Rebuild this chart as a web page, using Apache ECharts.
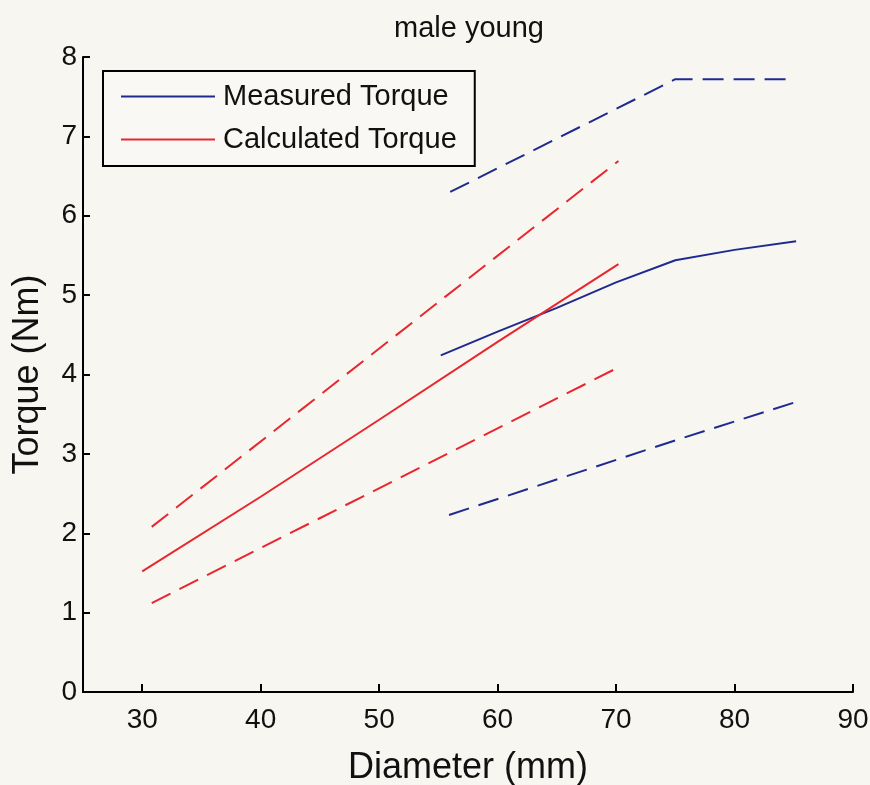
<!DOCTYPE html>
<html>
<head>
<meta charset="utf-8">
<script src="https://cdn.jsdelivr.net/npm/echarts@6/dist/echarts.min.js"></script>
<style>
html,body{margin:0;padding:0;background:#f7f6f1;}
#chart{width:870px;height:785px;}
</style>
</head>
<body>
<div id="chart"></div>
<script>
// ---- data ----
const titleText = 'male young';
const xName = 'Diameter (mm)';
const yName = 'Torque (Nm)';
const xTicks = [30, 40, 50, 60, 70, 80, 90];
const yTicks = [0, 1, 2, 3, 4, 5, 6, 7, 8];

// Measured torque (blue)
const measuredX     = [55.2, 60, 65, 70, 75, 80, 85.2];
const measuredMean  = [4.24, 4.54, 4.84, 5.16, 5.44, 5.57, 5.68];
const measuredUpX   = [56.0, 75, 85.1];
const measuredUp    = [6.30, 7.72, 7.72];
const measuredLowX  = [55.9, 75, 85.1];
const measuredLow   = [2.23, 3.17, 3.65];

// Calculated torque (red)
const calcX      = [30.0, 40, 50, 60, 70.2];
const calcMean   = [1.52, 2.46, 3.43, 4.41, 5.39];
const calcUpX    = [30.8, 70.2];
const calcUp     = [2.08, 6.69];
const calcLowX   = [30.8, 70.2];
const calcLow    = [1.12, 4.09];

const legendNames = ['Measured Torque', 'Calculated Torque'];

const BLUE = '#1f2a8f';
const RED = '#e8262e';
const FONT = '"Liberation Sans", Arial, sans-serif';

function pairs(xs, ys) { return xs.map((x, i) => [x, ys[i]]); }

function lineSeries(name, xs, ys, color, dashed) {
  return {
    name: name,
    type: 'line',
    data: pairs(xs, ys),
    symbol: 'none',
    smooth: false,
    silent: true,
    animation: false,
    lineStyle: { color: color, width: 2, type: dashed ? [21, 10] : 'solid' },
    itemStyle: { color: color }
  };
}

const chart = echarts.init(document.getElementById('chart'), null, { renderer: 'canvas' });
chart.setOption({
  backgroundColor: '#f7f6f1',
  animation: false,
  textStyle: { fontFamily: FONT },
  title: {
    text: titleText,
    left: 464, textAlign: 'center',
    top: 9,
    textStyle: { fontFamily: FONT, fontSize: 29, fontWeight: 'normal', color: '#111' }
  },
  legend: {
    data: legendNames.map(n => ({ name: n, icon: 'rect' })),
    orient: 'vertical',
    left: 103, top: 71,
    padding: [11, 18, 12, 18],
    itemGap: 14,
    itemWidth: 94, itemHeight: 2,
    itemStyle: { borderWidth: 0 },
    selectedMode: false,
    borderColor: '#000', borderWidth: 2,
    backgroundColor: '#f9f8f4',
    textStyle: { fontFamily: FONT, fontSize: 29, color: '#111', padding: [0, 0, 0, 3] }
  },
  grid: { left: 83, right: 17, top: 57, bottom: 93, containLabel: false, outerBoundsMode: 'none' },
  xAxis: {
    type: 'value', min: 25, max: 90,
    name: xName, nameLocation: 'middle', nameGap: 58,
    nameMoveOverlap: false,
    nameTextStyle: { fontFamily: FONT, fontSize: 36, color: '#111' },
    axisLine: { show: true, lineStyle: { color: '#000', width: 2 } },
    axisTick: { show: true, inside: true, length: 8, customValues: xTicks, lineStyle: { color: '#000', width: 2 } },
    axisLabel: { customValues: xTicks, margin: 14, fontFamily: FONT, fontSize: 28, color: '#111' },
    splitLine: { show: false }
  },
  yAxis: {
    type: 'value', min: 0, max: 8, interval: 1,
    name: yName, nameLocation: 'middle', nameGap: 37, nameRotate: 90,
    nameMoveOverlap: false,
    nameTextStyle: { fontFamily: FONT, fontSize: 36, color: '#111' },
    axisLine: { show: true, lineStyle: { color: '#000', width: 2 } },
    axisTick: { show: true, inside: true, length: 7, customValues: yTicks, lineStyle: { color: '#000', width: 2 } },
    axisLabel: { customValues: yTicks, margin: 6, fontFamily: FONT, fontSize: 28, color: '#111' },
    splitLine: { show: false }
  },
  series: [
    lineSeries(legendNames[0], measuredX, measuredMean, BLUE, false),
    lineSeries(legendNames[1], calcX, calcMean, RED, false),
    lineSeries('Measured upper', measuredUpX, measuredUp, BLUE, true),
    lineSeries('Measured lower', measuredLowX, measuredLow, BLUE, true),
    lineSeries('Calculated upper', calcUpX, calcUp, RED, true),
    lineSeries('Calculated lower', calcLowX, calcLow, RED, true)
  ]
});
</script>
</body>
</html>
